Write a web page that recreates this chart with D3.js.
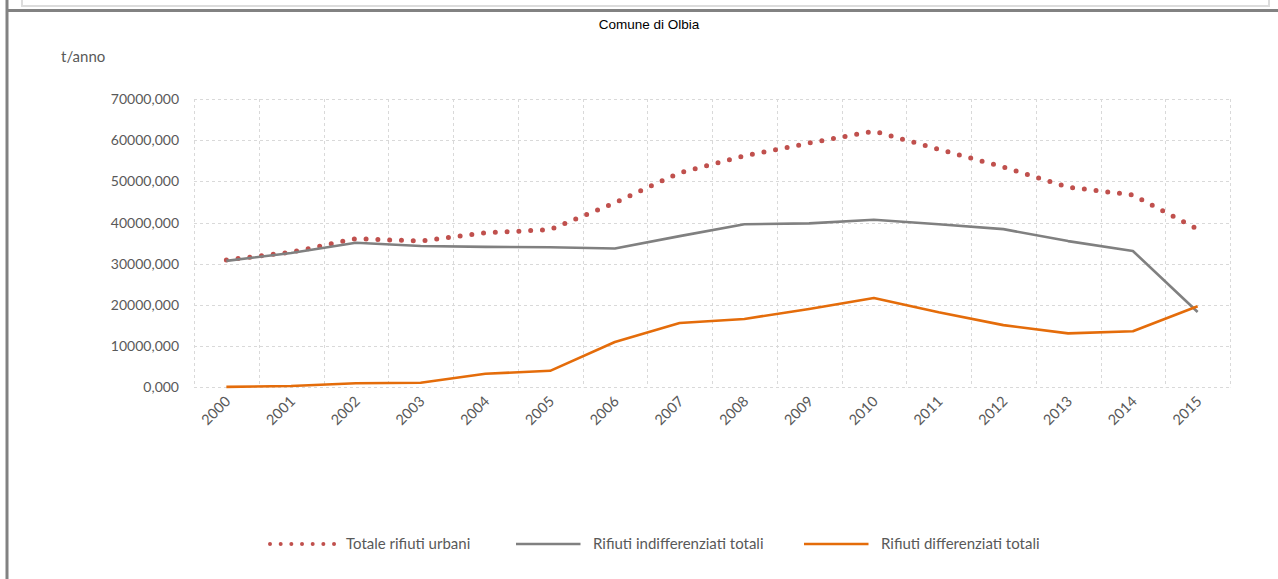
<!DOCTYPE html>
<html>
<head>
<meta charset="utf-8">
<script src="https://cdn.jsdelivr.net/npm/d3@7"></script>
<style>
  html, body { margin: 0; padding: 0; background: #fff; }
  svg { display: block; }
</style>
</head>
<body>
<div id="chart"></div>
<script>
// Dati: Comune di Olbia, t/anno
const anni = ['2000', '2001', '2002', '2003', '2004', '2005', '2006', '2007',
    '2008', '2009', '2010', '2011', '2012', '2013', '2014', '2015'];
const totaleUrbani = [30900, 32800, 36100, 35500, 37500, 38300, 44800, 52100,
    56200, 59300, 62200, 57800, 53500, 48600, 46700, 38400];
const indifferenziati = [30700, 32600, 35100, 34300, 34100, 34000, 33700, 36700,
    39600, 39800, 40700, 39600, 38400, 35500, 33100, 18300];
const differenziati = [100, 300, 1000, 1100, 3300, 4000, 11000, 15600,
    16600, 19000, 21700, 18200, 15100, 13100, 13600, 19700];
const yTicks = [0, 10000, 20000, 30000, 40000, 50000, 60000, 70000];

const series = [
    { name: 'Totale rifiuti urbani', values: totaleUrbani, color: '#c0504d', dotted: true },
    { name: 'Rifiuti indifferenziati totali', values: indifferenziati, color: '#808080' },
    { name: 'Rifiuti differenziati totali', values: differenziati, color: '#e46c0a' }
];

const W = 1278, H = 579;
const plot = { left: 194, right: 1230, top: 99, bottom: 387.3 };
const font = 'Lato, "Open Sans", sans-serif';
const textColor = '#595959';

const svg = d3.select('#chart').append('svg')
    .attr('width', W).attr('height', H);

// cornice della pagina
svg.append('rect')
    .attr('x', 22).attr('y', -10).attr('width', 1247).attr('height', 16)
    .attr('fill', '#fff').attr('stroke', '#dcdcdc').attr('stroke-width', 2);
svg.append('line')
    .attr('x1', 6).attr('x2', W).attr('y1', 10.5).attr('y2', 10.5)
    .attr('stroke', '#828282').attr('stroke-width', 3);
svg.append('line')
    .attr('x1', 7).attr('x2', 7).attr('y1', 0).attr('y2', H)
    .attr('stroke', '#828282').attr('stroke-width', 3);

// titolo
svg.append('text')
    .attr('x', 649).attr('y', 29)
    .attr('text-anchor', 'middle')
    .attr('font-family', '"Liberation Sans", Arial, sans-serif')
    .attr('font-size', 13.5).attr('fill', '#000')
    .text('Comune di Olbia');

svg.append('text')
    .attr('x', 61).attr('y', 62)
    .attr('font-family', font).attr('font-size', 15).attr('fill', textColor)
    .text('t/anno');

const x = d3.scaleBand().domain(anni).range([plot.left, plot.right]).padding(0);
const y = d3.scaleLinear().domain([0, 70000]).range([plot.bottom, plot.top]);

const it = d3.formatLocale({ decimal: ',', thousands: '', grouping: [3], currency: ['€', ''] });
const fmt = it.format('.3f');

// griglia orizzontale
const gridColor = '#d9d9d9';
svg.append('g')
    .selectAll('line')
    .data(yTicks)
    .join('line')
    .attr('x1', plot.left).attr('x2', plot.right)
    .attr('y1', d => Math.round(y(d)) + 0.5).attr('y2', d => Math.round(y(d)) + 0.5)
    .attr('stroke', gridColor).attr('stroke-dasharray', '3,3');

// griglia verticale ai bordi delle categorie
const edges = anni.map(a => x(a)).concat([x(anni[anni.length - 1]) + x.bandwidth()]);
svg.append('g')
    .selectAll('line')
    .data(edges)
    .join('line')
    .attr('x1', d => Math.round(d) + 0.5).attr('x2', d => Math.round(d) + 0.5)
    .attr('y1', plot.top).attr('y2', plot.bottom)
    .attr('stroke', gridColor).attr('stroke-dasharray', '3,3');

// etichette asse y
svg.append('g')
    .selectAll('text')
    .data(yTicks)
    .join('text')
    .attr('x', 179).attr('y', d => y(d) + 5)
    .attr('text-anchor', 'end')
    .attr('font-family', font).attr('font-size', 14).attr('fill', textColor)
    .text(d => fmt(d));

// etichette asse x, ruotate
svg.append('g')
    .selectAll('text')
    .data(anni)
    .join('text')
    .attr('transform', d => `translate(${x(d) + x.bandwidth() / 2 + 5},${plot.bottom + 15}) rotate(-45)`)
    .attr('text-anchor', 'end')
    .attr('font-family', font).attr('font-size', 14.5).attr('fill', textColor)
    .text(d => d);

// linee
const line = d3.line()
    .x((d, i) => x(anni[i]) + x.bandwidth() / 2)
    .y(d => y(d));

series.forEach(s => {
    const p = svg.append('path')
        .datum(s.values)
        .attr('d', line)
        .attr('fill', 'none')
        .attr('stroke', s.color);
    if (s.dotted) {
        p.attr('stroke-width', 5)
            .attr('stroke-linecap', 'round')
            .attr('stroke-dasharray', '0 11.8');
    } else {
        p.attr('stroke-width', 2.6)
            .attr('stroke-linejoin', 'round');
    }
});

// legenda
const legendX = [270, 516, 804];
const legend = svg.append('g');
series.forEach((s, i) => {
    const lx = legendX[i], ly = 544;
    const l = legend.append('line')
        .attr('x1', lx).attr('x2', lx + 64.5)
        .attr('y1', ly).attr('y2', ly)
        .attr('stroke', s.color);
    if (s.dotted) {
        l.attr('stroke-width', 4).attr('stroke-linecap', 'round')
            .attr('stroke-dasharray', '0 10.67');
    } else {
        l.attr('stroke-width', 2.6);
    }
    legend.append('text')
        .attr('x', lx + (s.dotted ? 76 : 77)).attr('y', ly + 5)
        .attr('font-family', font).attr('font-size', 15).attr('fill', textColor)
        .text(s.name);
});
</script>
</body>
</html>
